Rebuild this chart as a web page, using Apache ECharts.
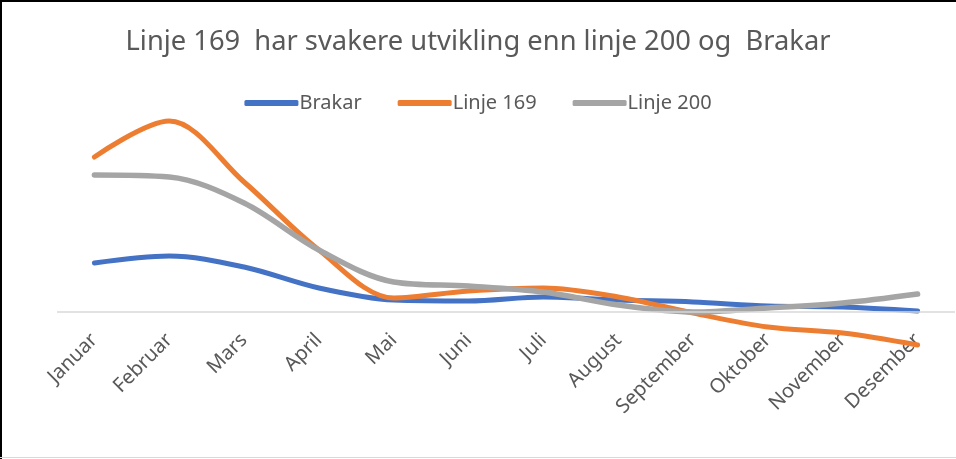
<!DOCTYPE html>
<html><head><meta charset="utf-8">
<script src="https://cdn.jsdelivr.net/npm/echarts@6/dist/echarts.min.js"></script>
<style>html,body{margin:0;padding:0;background:#fff}#c{width:956px;height:459px}</style>
</head><body><div id="c"></div>
<script>
const categories = ['Januar','Februar','Mars','April','Mai','Juni','Juli','August','September','Oktober','November','Desember'];
const brakar   = [49, 56, 45, 24, 12, 11, 15, 12, 10, 6, 5, 1];
const linje169 = [155, 191, 130, 62, 14, 21, 24, 15, -1, -15, -21, -33];
const linje200 = [137, 135, 109, 62, 30, 26, 20, 7, 0, 4, 9, 18];
const titleText = 'Linje 169  har svakere utvikling enn linje 200 og  Brakar';

const FONT = 'Noto Sans';
const chart = echarts.init(document.getElementById('c'), null, {renderer:'canvas'});
function mk(name, data, color, w){
  return {name, type:'line', data, smooth:0.33, symbol:'none', z:3,
    lineStyle:{color, width:w, cap:'round'}, itemStyle:{color}};
}
chart.setOption({
  animation:false,
  title:{text:titleText, left:'center', top:24,
    textStyle:{fontFamily:FONT, fontSize:27.3, fontWeight:'normal', color:'#595959'}},
  legend:{top:88, left:'center', icon:'roundRect', itemWidth:54, itemHeight:6, itemGap:36,
    textStyle:{fontFamily:FONT, fontSize:20, color:'#595959', padding:[0,0,0,-4]},
    data:['Brakar','Linje 169','Linje 200']},
  grid:{left:57, right:1, top:112, bottom:107},
  xAxis:{type:'category', data:categories, boundaryGap:true,
    axisLine:{show:false}, axisTick:{show:false},
    axisLabel:{rotate:45, margin:-15, fontFamily:FONT, fontSize:20, color:'#595959', interval:0}},
  yAxis:{type:'value', min:-40, max:200, show:false, splitLine:{show:false}},
  series:[
    {name:'zero', type:'line', data:[], z:1, silent:true,
      markLine:{silent:true, symbol:'none', label:{show:false},
        lineStyle:{color:'#D9D9D9', width:1.5, type:'solid'}, data:[{yAxis:0}]}},
    mk('Brakar', brakar, '#4472C4', 5), mk('Linje 169', linje169, '#ED7D31', 5), mk('Linje 200', linje200, '#A5A5A5', 5.5)],
  graphic:[
    {type:'line', shape:{x1:1, y1:0, x2:1, y2:459}, style:{stroke:'#000', lineWidth:2}},
    {type:'line', shape:{x1:0, y1:1, x2:956, y2:1}, style:{stroke:'#000', lineWidth:2}},
    {type:'line', shape:{x1:0, y1:457.5, x2:956, y2:457.5}, style:{stroke:'#D9D9D9', lineWidth:1}}
  ]
});
</script></body></html>
